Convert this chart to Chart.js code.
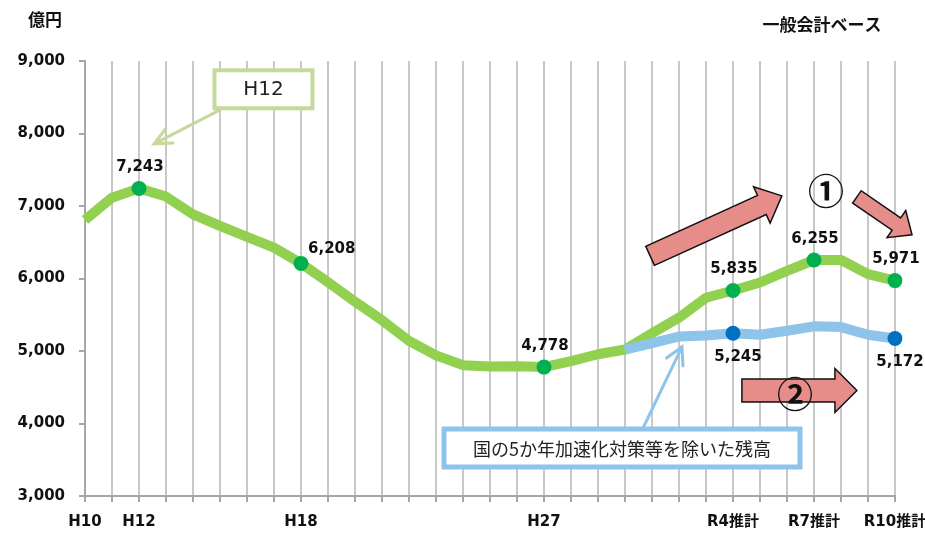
<!DOCTYPE html>
<html>
<head>
<meta charset="utf-8">
<script src="https://cdn.jsdelivr.net/npm/chart.js@4.4.1/dist/chart.umd.min.js"></script>
<style>
  html, body { margin: 0; padding: 0; background: #fff; }
</style>
</head>
<body>
<canvas id="debtChart" width="925" height="534"></canvas>
<script>
// categories (fiscal years H10 .. R10)
var categories = ['H10','H11','H12','H13','H14','H15','H16','H17','H18','H19',
  'H20','H21','H22','H23','H24','H25','H26','H27','H28','H29','H30',
  'R1','R2','R3','R4推計','R5','R6','R7推計','R8','R9','R10推計'];
var shownTicks = ['H10','H12','H18','H27','R4推計','R7推計','R10推計'];
var yTicks = [3000, 4000, 5000, 6000, 7000, 8000, 9000];

// 残高 (億円)
var totalDebt = [6810, 7115, 7243, 7130, 6885, 6725, 6575, 6425, 6208, 5950,
  5680, 5425, 5140, 4940, 4805, 4785, 4790, 4778, 4860, 4955, 5020,
  5245, 5460, 5735, 5835, 5945, 6105, 6255, 6255, 6060, 5971];
// 国の5か年加速化対策等を除いた残高
var exclAccel = [null, null, null, null, null, null, null, null, null, null,
  null, null, null, null, null, null, null, null, null, null, 5020,
  5110, 5200, 5215, 5245, 5225, 5280, 5340, 5330, 5225, 5172];

var totalMarked = ['H12','H18','H27','R4推計','R7推計','R10推計'];
var exclMarked = ['R4推計','R10推計'];

var FONT = "'DejaVu Sans', 'Noto Sans CJK JP', sans-serif";
var CJK = "'Noto Sans CJK JP', 'DejaVu Sans', sans-serif";
Chart.defaults.font.family = FONT;

function fmt(v) { return v.toLocaleString('en-US'); }

function blockArrow(ctx, x1, y1, x2, y2, shaftW, headW, headL) {
  var dx = x2 - x1, dy = y2 - y1, len = Math.hypot(dx, dy);
  var ux = dx / len, uy = dy / len, nx = -uy, ny = ux;
  var bx = x2 - ux * headL, by = y2 - uy * headL;
  var s = shaftW / 2, h = headW / 2;
  ctx.beginPath();
  ctx.moveTo(x1 + nx * s, y1 + ny * s);
  ctx.lineTo(bx + nx * s, by + ny * s);
  ctx.lineTo(bx + nx * h, by + ny * h);
  ctx.lineTo(x2, y2);
  ctx.lineTo(bx - nx * h, by - ny * h);
  ctx.lineTo(bx - nx * s, by - ny * s);
  ctx.lineTo(x1 - nx * s, y1 - ny * s);
  ctx.closePath();
  ctx.fillStyle = '#E68D8A';
  ctx.fill();
  ctx.lineWidth = 1.5;
  ctx.strokeStyle = '#111';
  ctx.lineJoin = 'miter';
  ctx.stroke();
}

function lineArrow(ctx, x1, y1, x2, y2, color, width, headLen, ang) {
  var a = Math.atan2(y1 - y2, x1 - x2);
  ctx.strokeStyle = color;
  ctx.lineWidth = width;
  ctx.lineCap = 'round';
  ctx.beginPath();
  ctx.moveTo(x1, y1);
  ctx.lineTo(x2, y2);
  ctx.moveTo(x2 + Math.cos(a + ang) * headLen, y2 + Math.sin(a + ang) * headLen);
  ctx.lineTo(x2, y2);
  ctx.lineTo(x2 + Math.cos(a - ang) * headLen, y2 + Math.sin(a - ang) * headLen);
  ctx.stroke();
}

var labelsPlugin = {
  id: 'labels',
  afterDatasetsDraw: function (chart) {
    var ctx = chart.ctx;
    ctx.save();
    ctx.font = 'bold 15px ' + FONT;
    ctx.fillStyle = '#111';
    ctx.textBaseline = 'middle';
    var green = chart.getDatasetMeta(1);
    totalMarked.forEach(function (c) {
      var i = categories.indexOf(c), p = green.data[i];
      if (c === 'H18') {
        ctx.textAlign = 'left';
        ctx.fillText(fmt(totalDebt[i]), p.x + 7, p.y - 14);
      } else {
        ctx.textAlign = 'center';
        ctx.fillText(fmt(totalDebt[i]), p.x + 1, p.y - 21);
      }
    });
    var blue = chart.getDatasetMeta(0);
    exclMarked.forEach(function (c) {
      var i = categories.indexOf(c), p = blue.data[i];
      ctx.textAlign = 'center';
      ctx.fillText(fmt(exclAccel[i]), p.x + 5, p.y + 24);
    });
    ctx.restore();
  },
  afterDraw: function (chart) {
    var ctx = chart.ctx, xs = chart.scales.x, ys = chart.scales.y;
    function at(i, v) { return [xs.getPixelForValue(i), ys.getPixelForValue(v)]; }
    ctx.save();

    // unit and basis
    ctx.fillStyle = '#111';
    ctx.textBaseline = 'middle';
    ctx.font = 'bold 17px ' + CJK;
    ctx.textAlign = 'left';
    ctx.fillText('億円', 28, 20);
    ctx.textAlign = 'center';
    ctx.fillText('一般会計ベース', 822, 25);

    // H12 callout
    var b = at(6.61, 8610);
    ctx.fillStyle = '#fff';
    ctx.fillRect(b[0] - 49, b[1] - 19, 98, 38);
    ctx.strokeStyle = '#C4D99B';
    ctx.lineWidth = 4;
    ctx.strokeRect(b[0] - 49, b[1] - 19, 98, 38);
    ctx.fillStyle = '#222';
    ctx.font = '20px ' + FONT;
    ctx.fillText('H12', b[0], b[1] + 1);
    var a1 = at(4.93, 8313), a2 = at(2.56, 7858);
    lineArrow(ctx, a1[0], a1[1], a2[0], a2[1], '#C4D99B', 3, 19, 0.44);

    // trend arrows
    var t1 = at(20.93, 6312), t2 = at(25.81, 7140);
    blockArrow(ctx, t1[0], t1[1], t2[0], t2[1], 21, 40, 22);
    var u1 = at(28.59, 7126), u2 = at(30.63, 6602);
    blockArrow(ctx, u1[0], u1[1], u2[0], u2[1], 15, 33, 19);
    var r1 = at(24.33, 4455), r2 = at(28.59, 4455);
    blockArrow(ctx, r1[0], r1[1], r2[0], r2[1], 23, 44, 22);

    ctx.fillStyle = '#111';
    ctx.font = 'bold 36px ' + CJK;
    var c1 = at(27.44, 7237);
    ctx.fillText('①', c1[0], c1[1] + 2);
    var c2 = at(26.30, 4435);
    ctx.fillText('②', c2[0], c2[1] + 2);

    // blue callout
    var cb = at(19.89, 3662);
    var la = at(20.67, 3938), lb = at(22.11, 5056);
    lineArrow(ctx, la[0], la[1], lb[0], lb[1], '#8EC3EA', 3, 19, 0.5);
    ctx.fillStyle = '#fff';
    ctx.fillRect(cb[0] - 178, cb[1] - 19, 356, 38);
    ctx.strokeStyle = '#8EC3EA';
    ctx.lineWidth = 5;
    ctx.strokeRect(cb[0] - 178, cb[1] - 19, 356, 38);
    ctx.fillStyle = '#222';
    ctx.font = '18px ' + CJK;
    ctx.fillText('国の5か年加速化対策等を除いた残高', cb[0], cb[1] + 1);

    ctx.restore();
  }
};

var ctx = document.getElementById('debtChart').getContext('2d');
var debtChart = new Chart(ctx, {
  type: 'line',
  data: {
    labels: categories,
    datasets: [{
      data: exclAccel,
      borderColor: '#8EC3EA',
      borderWidth: 10,
      borderJoinStyle: 'round',
      pointRadius: categories.map(function (c) { return exclMarked.indexOf(c) >= 0 ? 7.5 : 0; }),
      pointBackgroundColor: '#0070C0',
      pointBorderWidth: 0,
      order: 0
    }, {
      data: totalDebt,
      borderColor: '#92D050',
      borderWidth: 10,
      borderJoinStyle: 'round',
      pointRadius: categories.map(function (c) { return totalMarked.indexOf(c) >= 0 ? 7.5 : 0; }),
      pointBackgroundColor: '#00B050',
      pointBorderWidth: 0,
      order: 1
    }]
  },
  options: {
    responsive: false,
    animation: false,
    layout: { padding: { top: 61, right: 30, bottom: 0, left: 0 } },
    plugins: { legend: { display: false }, tooltip: { enabled: false } },
    scales: {
      x: {
        offset: false,
        grid: { color: '#C8C8C8', lineWidth: 2, tickLength: 6, tickColor: '#A6A6A6' },
        border: { color: '#A6A6A6', width: 2 },
        ticks: {
          autoSkip: false, maxRotation: 0, padding: 11, color: '#111',
          font: { size: 15, weight: 'bold' },
          callback: function (v) {
            var c = categories[v];
            return shownTicks.indexOf(c) >= 0 ? c : '';
          }
        },
        afterFit: function (s) { s.height = 38; s.paddingLeft = 0; s.paddingRight = 0; }
      },
      y: {
        min: yTicks[0], max: yTicks[yTicks.length - 1],
        grid: { drawOnChartArea: false, tickLength: 6, color: '#A6A6A6', lineWidth: 2 },
        border: { color: '#A6A6A6', width: 2 },
        ticks: {
          stepSize: 1000, padding: 14, color: '#111',
          font: { size: 15, weight: 'bold' },
          callback: function (v) { return fmt(v); }
        },
        afterFit: function (s) { s.width = 85; s.paddingTop = 0; s.paddingBottom = 0; }
      }
    }
  },
  plugins: [labelsPlugin]
});
</script>
</body>
</html>
